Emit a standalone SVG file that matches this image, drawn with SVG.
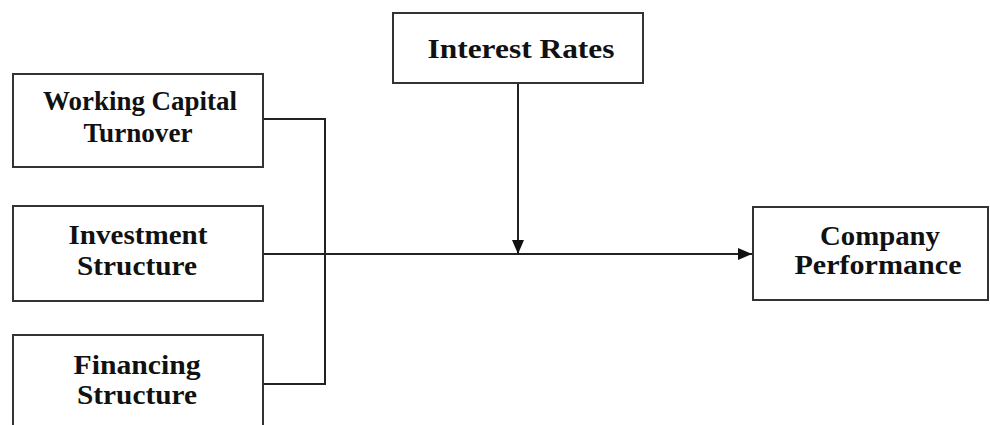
<svg xmlns="http://www.w3.org/2000/svg" width="990" height="425" viewBox="0 0 990 425">
<style>
.box{fill:#fff;stroke:#333;stroke-width:2}
.t{font-family:"Liberation Serif","Times New Roman",serif;font-weight:bold;font-size:27px;fill:#111;text-anchor:middle}
.c{fill:none;stroke:#222;stroke-width:2}
</style>
<defs>
<marker id="ah" viewBox="0 0 14 12" refX="14" refY="6" markerWidth="14" markerHeight="12" markerUnits="userSpaceOnUse" orient="auto">
<path d="M0,0 L14,6 L0,12 Z" fill="#111"/>
</marker>
</defs>
<rect width="990" height="425" fill="#fff"/>
<g id="connectors">
<polyline class="c" points="263,119 325,119 325,384 263,384"/>
<line class="c" x1="263" y1="254" x2="752" y2="254" marker-end="url(#ah)"/>
<line class="c" x1="518" y1="83" x2="518" y2="254" marker-end="url(#ah)"/>
</g>
<g id="wct">
<rect class="box" x="13" y="74" width="250" height="93"/>
<text class="t" x="140" y="110" textLength="194" lengthAdjust="spacingAndGlyphs">Working Capital</text>
<text class="t" x="138" y="142" textLength="109" lengthAdjust="spacingAndGlyphs">Turnover</text>
</g>
<g id="is">
<rect class="box" x="13" y="206" width="250" height="95"/>
<text class="t" x="138" y="244" textLength="139" lengthAdjust="spacingAndGlyphs">Investment</text>
<text class="t" x="137" y="275" textLength="120" lengthAdjust="spacingAndGlyphs">Structure</text>
</g>
<g id="fs">
<rect class="box" x="13" y="335" width="250" height="100"/>
<text class="t" x="137" y="374" textLength="127" lengthAdjust="spacingAndGlyphs">Financing</text>
<text class="t" x="137" y="404" textLength="120" lengthAdjust="spacingAndGlyphs">Structure</text>
</g>
<g id="ir">
<rect class="box" x="393" y="13" width="250" height="70"/>
<text class="t" x="521" y="58" textLength="187" lengthAdjust="spacingAndGlyphs">Interest Rates</text>
</g>
<g id="cp">
<rect class="box" x="753" y="207" width="235" height="93"/>
<text class="t" x="880" y="245" textLength="120" lengthAdjust="spacingAndGlyphs">Company</text>
<text class="t" x="878" y="274" textLength="167" lengthAdjust="spacingAndGlyphs">Performance</text>
</g>
</svg>
